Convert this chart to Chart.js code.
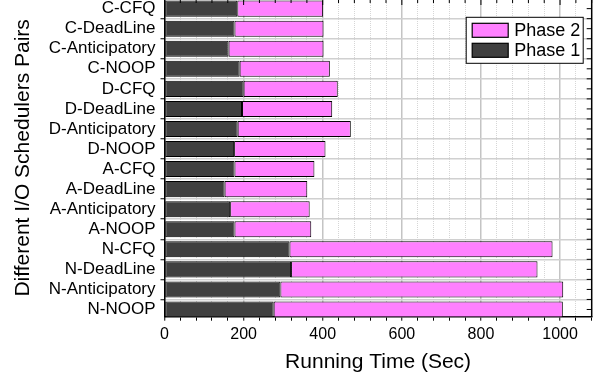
<!DOCTYPE html>
<html>
<head>
<meta charset="utf-8">
<title>Running time per I/O scheduler pair</title>
<script src="https://cdn.jsdelivr.net/npm/chart.js@4/dist/chart.umd.min.js"></script>
<style>
  html, body { margin: 0; padding: 0; background: #fff; }
  /* the original figure is cropped at the top, so the canvas sticks out above the window */
  #wrap { position: relative; width: 602px; height: 381px; overflow: hidden; }
  #chart { position: absolute; left: 0; top: -20px; }
</style>
</head>
<body>
<div id="wrap"><canvas id="chart" width="602" height="401"></canvas></div>
<script>
/* ── data, top row first, as in the figure ── */
const SCHEDULERS = ['C-CFQ', 'C-DeadLine', 'C-Anticipatory', 'C-NOOP',
                    'D-CFQ', 'D-DeadLine', 'D-Anticipatory', 'D-NOOP',
                    'A-CFQ', 'A-DeadLine', 'A-Anticipatory', 'A-NOOP',
                    'N-CFQ', 'N-DeadLine', 'N-Anticipatory', 'N-NOOP'];
const PHASE1 = [184, 177, 162, 190, 200, 196, 185, 176, 177, 152, 166, 177, 316, 320, 293, 276];
const PHASE2 = [217, 225, 240, 228, 238, 228, 286, 231, 202, 209, 201, 194, 665, 623, 715, 731];

const X_MAX   = 1080;
const X_MAJOR = 200;
const X_MINOR = 40;

const FONT = '"Liberation Sans", Arial, Helvetica, sans-serif';
const N = SCHEDULERS.length;
const rowOf = i => N - 1 - i;          // first name ends up at the top
const toPoints = vals => vals.map((v, i) => ({ x: v, y: rowOf(i) }));

/* frame on top / right with inward ticks, like the Origin plot */
const framePlugin = {
  id: 'frame',
  afterDatasetsDraw(chart) {
    const { ctx, chartArea: a, scales: { x, y } } = chart;
    ctx.save();
    ctx.strokeStyle = '#000';
    ctx.lineWidth = 1.5;
    ctx.beginPath();
    ctx.moveTo(a.left, a.top);
    ctx.lineTo(a.right, a.top);
    ctx.lineTo(a.right, a.bottom);
    ctx.stroke();

    ctx.lineWidth = 1;
    x.ticks.forEach(t => {
      const px = x.getPixelForValue(t.value);
      const len = t.value % X_MAJOR === 0 ? 6 : 4;
      ctx.beginPath(); ctx.moveTo(px, a.top); ctx.lineTo(px, a.top + len); ctx.stroke();
    });
    y.ticks.forEach(t => {
      [t.value, t.value + 0.5].forEach(v => {
        const py = y.getPixelForValue(v);
        if (py < a.top || py > a.bottom) return;
        ctx.beginPath(); ctx.moveTo(a.right, py); ctx.lineTo(a.right - 5, py); ctx.stroke();
      });
    });
    ctx.restore();
  }
};

/* boxed legend inside the plot, Phase 2 listed first */
const boxLegend = {
  id: 'boxLegend',
  afterDraw(chart) {
    const { ctx, chartArea: a } = chart;
    const w = 117, h = 46;
    const bx = a.right - 8.5 - w, by = a.top + 18.3;
    ctx.save();
    ctx.fillStyle = '#fff';
    ctx.fillRect(bx, by, w, h);
    ctx.strokeStyle = '#000';
    ctx.lineWidth = 1;
    ctx.strokeRect(bx, by, w, h);
    chart.data.datasets.slice().reverse().forEach((ds, i) => {
      const sy = by + 6 + i * 20;
      ctx.fillStyle = ds.backgroundColor;
      ctx.fillRect(bx + 6, sy, 36, 14);
      ctx.lineWidth = 1.2;
      ctx.strokeRect(bx + 6, sy, 36, 14);
      ctx.fillStyle = '#000';
      ctx.font = '18px ' + FONT;
      ctx.textBaseline = 'alphabetic';
      ctx.fillText(ds.label, bx + 48, sy + 12.6);
    });
    ctx.restore();
  }
};

new Chart(document.getElementById('chart'), {
  type: 'bar',
  data: {
    datasets: [
      { label: 'Phase 1', data: toPoints(PHASE1), backgroundColor: '#404040', stack: 'phases' },
      { label: 'Phase 2', data: toPoints(PHASE2), backgroundColor: '#ff80ff', stack: 'phases' }
    ]
  },
  options: {
    indexAxis: 'y',
    responsive: false,
    animation: false,
    layout: { padding: { top: 19, right: 10.3, bottom: 0, left: 0 } },
    plugins: { legend: { display: false }, tooltip: { enabled: false } },
    datasets: {
      bar: { barPercentage: 0.8, categoryPercentage: 1, borderWidth: 1, borderColor: '#000', borderSkipped: false }
    },
    scales: {
      x: {
        type: 'linear', min: 0, max: X_MAX, stacked: true,
        ticks: {
          stepSize: X_MINOR, autoSkip: false, maxRotation: 0, minRotation: 0, padding: 4,
          color: '#000', font: { family: FONT, size: 16 },
          callback: v => (v % X_MAJOR === 0 ? v : '')
        },
        grid: {
          color: c => (c.tick && c.tick.value % X_MAJOR === 0 ? '#c4c4c4' : '#d6d6d6'),
          lineWidth: c => (c.tick && c.tick.value % X_MAJOR === 0 ? 1.5 : 1),
          tickLength: 4, tickColor: '#000', tickWidth: 1
        },
        border: {
          color: '#000', width: 1.5,
          dash: c => (c.tick && c.tick.value % X_MAJOR !== 0 ? [1, 1] : [])
        },
        title: {
          display: true, text: 'Running Time (Sec)', color: '#000',
          font: { family: FONT, size: 21 }, padding: { top: 0, bottom: 6.6 }
        },
        afterFit: s => { s.height = 64.3; }
      },
      y: {
        type: 'linear', min: -0.36, max: 15.48, offset: false,
        ticks: {
          stepSize: 1, includeBounds: false, autoSkip: false, padding: 5,
          color: '#000', font: { family: FONT, size: 17 },
          callback: v => SCHEDULERS[rowOf(v)]
        },
        grid: { offset: true, color: '#d0d0d0', lineWidth: 1.5, tickLength: 4, tickColor: '#000', tickWidth: 1 },
        border: { color: '#000', width: 1.5 },
        title: {
          display: true, text: 'Different I/O Schedulers Pairs', color: '#000',
          font: { family: FONT, size: 21 }, padding: { top: 10.4, bottom: 0 }
        },
        afterFit: s => { s.width = 164.5; }
      }
    }
  },
  plugins: [framePlugin, boxLegend]
});
</script>
</body>
</html>
